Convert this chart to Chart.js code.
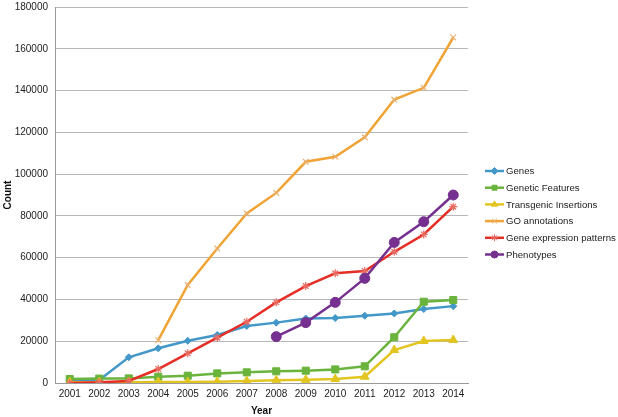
<!DOCTYPE html>
<html>
<head>
<meta charset="utf-8">
<script src="https://cdn.jsdelivr.net/npm/chart.js@4"></script>
<style>
html,body{margin:0;padding:0;background:#fff;}
#wrap{width:618px;height:417px;position:relative;}
</style>
</head>
<body>
<div id="wrap"><canvas id="c" width="618" height="417"></canvas></div>
<script>
const years = ['2001','2002','2003','2004','2005','2006','2007','2008','2009','2010','2011','2012','2013','2014'];
const genes = [1400, 1400, 12300, 16600, 20200, 23000, 27300, 28900, 30900, 31100, 32200, 33300, 35400, 36800];
const geneticFeatures = [1900, 2100, 2200, 3000, 3500, 4600, 5100, 5600, 5900, 6500, 8000, 21900, 38900, 39700];
const transgenicInsertions = [300, 300, 400, 500, 500, 600, 900, 1300, 1500, 1900, 3000, 15800, 20100, 20600];
const goAnnotations = [null, null, null, 20500, 46900, 64400, 81200, 91000, 105900, 108300, 117600, 135700, 141300, 165400];
const geneExpression = [0, 300, 1000, 6700, 14200, 21700, 29300, 38600, 46400, 52500, 53600, 62800, 71100, 84400];
const phenotypes = [null, null, null, null, null, null, null, 22200, 28900, 38600, 50100, 67300, 77200, 90000];
const seriesNames = ['Genes','Genetic Features','Transgenic Insertions','GO annotations','Gene expression patterns','Phenotypes'];
const yTicks = [0,20000,40000,60000,80000,100000,120000,140000,160000,180000];

const FONT = '"Liberation Sans", Arial, sans-serif';
const styles = [
  {color:'#4398C9', point:'rectRot', r:3.5, pc:'#4398C9'},
  {color:'#6AB43E', point:'rect', r:5, pc:'#6AB43E'},
  {color:'#E3C521', point:'triangle', r:5, pc:'#E3C521'},
  {color:'#EFA435', point:'crossRot', r:4, pc:'#E8B070'},
  {color:'#E52E25', point:'star', r:4, pc:'#E86A60'},
  {color:'#76308F', point:'circle', r:5, pc:'#76308F'}
];
const values = [genes, geneticFeatures, transgenicInsertions, goAnnotations, geneExpression, phenotypes];

const datasets = values.map((v,i)=>({
  label: seriesNames[i],
  data: v,
  borderColor: styles[i].color,
  backgroundColor: styles[i].pc,
  pointBorderColor: styles[i].pc,
  pointBackgroundColor: styles[i].pc,
  pointStyle: styles[i].point,
  pointRadius: styles[i].r,
  pointBorderWidth: (styles[i].point==='crossRot'||styles[i].point==='star')?1.2:1,
  borderWidth: 2.5,
  tension: 0,
  spanGaps: false,
  order: -i
}));

const legendPlugin = {
  id:'customLegend',
  afterDraw(chart){
    const ctx = chart.ctx;
    ctx.save();
    ctx.font = '9.6px ' + FONT;
    ctx.textBaseline = 'middle';
    chart.data.datasets.forEach((ds,i)=>{
      const y = 171 + i*16.7;
      ctx.strokeStyle = ds.borderColor;
      ctx.lineWidth = 2.5;
      ctx.beginPath(); ctx.moveTo(485,y); ctx.lineTo(504,y); ctx.stroke();
      ctx.fillStyle = ds.pointBackgroundColor;
      ctx.strokeStyle = ds.pointBorderColor;
      ctx.lineWidth = 1;
      Chart.helpers.drawPoint(ctx, {pointStyle: ds.pointStyle, radius: Math.min(ds.pointRadius,3.5), borderWidth: 1, rotation:0}, 494.5, y);
      ctx.fillStyle = '#222';
      ctx.fillText(ds.label, 506, y+0.5);
    });
    ctx.restore();
  }
};

new Chart(document.getElementById('c'), {
  type:'line',
  data:{labels: years, datasets},
  options:{
    responsive:false,
    animation:false,
    devicePixelRatio:1,
    layout:{padding:{left:2,right:150,top:7,bottom:0}},
    plugins:{legend:{display:false}, tooltip:{enabled:false}},
    scales:{
      x:{
        offset:true,
        grid:{display:false, drawTicks:false},
        border:{display:true, color:'#9a9a9a', width:1},
        ticks:{color:'#222', font:{family:FONT, size:10}, padding:5, maxRotation:0, autoSkip:false},
        title:{display:true, text:'Year', color:'#111', font:{family:FONT, size:10, weight:'bold'}, padding:{top:2,bottom:0}},
        afterFit(s){ s.height = 34; s.paddingLeft = 0; s.paddingRight = 0; }
      },
      y:{
        min:0, max:180000,
        afterBuildTicks(s){ s.ticks = yTicks.map(v=>({value:v})); },
        grid:{color:'#b8b8b8', lineWidth:1, drawTicks:false},
        border:{display:true, color:'#9a9a9a', width:1},
        ticks:{color:'#222', font:{family:FONT, size:10}, padding:7, callback:(v)=>String(v)},
        title:{display:true, text:'Count', color:'#111', font:{family:FONT, size:10, weight:'bold'}, padding:{top:0,bottom:2}},
        afterFit(s){ s.width = 53; s.paddingTop = 0; s.paddingBottom = 0; }
      }
    }
  },
  plugins:[legendPlugin]
});
</script>
</body>
</html>
